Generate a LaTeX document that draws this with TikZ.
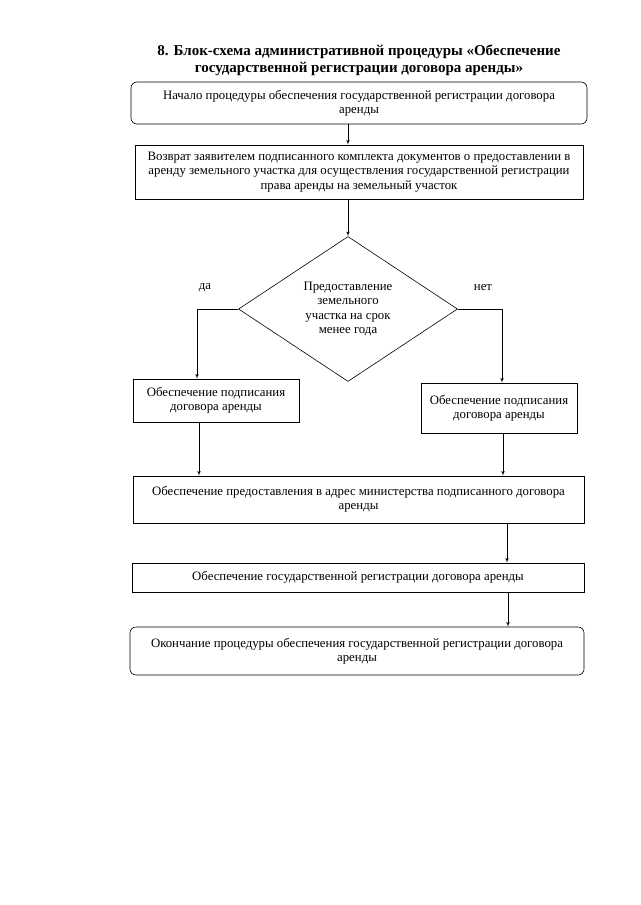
\documentclass[tikz,border=0pt]{standalone}
\usepackage{fontspec}
\setmainfont{Liberation Serif}
\usepackage{tikz}
\usetikzlibrary{arrows}
\usetikzlibrary{shapes,shapes.geometric}
\usetikzlibrary{positioning}
\tikzset{
    block/.style={draw=black, rectangle, align=center, inner sep=2pt,
        font=\rmfamily\fontsize{12.8}{14.2}\selectfont},
    startstop/.style={block, rounded corners=6pt},
    decision/.style={draw=black, diamond, align=center, inner sep=0pt,
        font=\rmfamily\fontsize{12.8}{14.5}\selectfont},
    answer/.style={font=\rmfamily\fontsize{12.8}{14}\selectfont},
}
\tikzstyle{line} = [draw, -latex']
\begin{document}
\begin{tikzpicture}[x=1pt, y=1pt, line width=0.6pt]
    \useasboundingbox (0,0) rectangle (640,-905);
    \node[font=\rmfamily\bfseries\fontsize{15}{17}\selectfont, align=center] (title) at (359,-60)
        {8. Блок-схема административной процедуры «Обеспечение\\
        государственной регистрации договора аренды»};
    % blocks
    \node[startstop, minimum width=456pt, minimum height=42pt] (start) at (359,-103)
        {Начало процедуры обеспечения государственной регистрации договора\\ аренды};
    \node[block, minimum width=448pt, minimum height=54pt] (ret) at (359,-172)
        {Возврат заявителем подписанного комплекта документов о предоставлении в\\
        аренду земельного участка для осуществления государственной регистрации\\
        права аренды на земельный участок};
    \node[decision, minimum width=219pt, minimum height=145pt] (dia) at (348,-309)
        {Предоставление\\ земельного\\ участка на срок\\ менее года};
    \node[block, minimum width=166pt, minimum height=43pt] (yes) at (216,-400.5)
        {Обеспечение подписания\\ договора аренды};
    \node[block, minimum width=156pt, minimum height=50pt] (no) at (499,-408)
        {Обеспечение подписания\\ договора аренды};
    \node[block, minimum width=451pt, minimum height=47pt] (send) at (358.5,-499.5)
        {Обеспечение предоставления в адрес министерства подписанного договора\\ аренды};
    \node[block, minimum width=452pt, minimum height=29pt] (reg) at (358,-577.5)
        {Обеспечение государственной регистрации договора аренды};
    \node[startstop, minimum width=454pt, minimum height=48pt] (stop) at (357,-651)
        {Окончание процедуры обеспечения государственной регистрации договора\\ аренды};
    \node[answer] (da) at (205,-288) {да};
    \node[answer] (net) at (483,-288) {нет};
    % connectors
    \coordinate (ya) at (197,-309);
    \coordinate (na) at (502,-309);
    \path[line] (start.south -| dia.north) -- (ret.north -| dia.north);
    \path[line] (ret.south -| dia.north) -- (dia.north);
    \draw (dia.west) -- (ya);
    \path[line] (ya) -- (ya |- yes.north);
    \draw (dia.east) -- (na);
    \path[line] (na) -- (na |- no.north);
    \path[line] ([xshift=-17pt]yes.south) -- ([xshift=-17pt]yes.south |- send.north);
    \path[line] ([xshift=4pt]no.south) -- ([xshift=4pt]no.south |- send.north);
    \path[line] ([xshift=148.5pt]send.south) -- ([xshift=148.5pt]send.south |- reg.north);
    \path[line] ([xshift=150pt]reg.south) -- ([xshift=150pt]reg.south |- stop.north);
\end{tikzpicture}
\end{document}
